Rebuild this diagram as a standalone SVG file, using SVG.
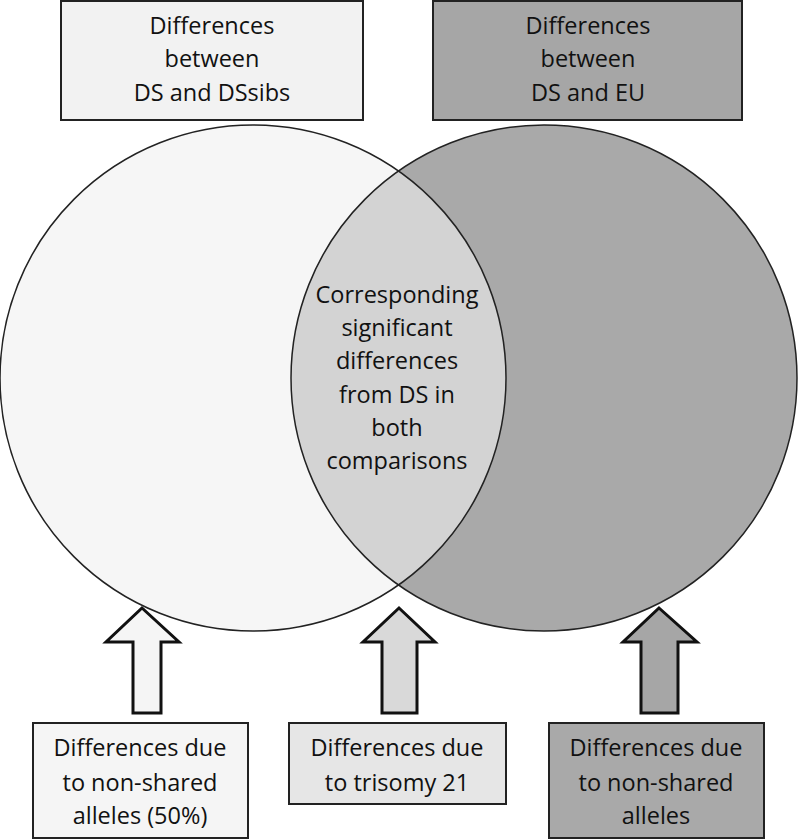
<svg xmlns="http://www.w3.org/2000/svg" width="800" height="840" viewBox="0 0 800 840">
<style>
.t{font-family:"Open Sans","Noto Sans",sans-serif;font-size:23.5px;fill:#111;text-anchor:middle}
.box{stroke:#222;stroke-width:2}
.ol{fill:none;stroke:#222;stroke-width:1.5}
.arr{stroke:#111;stroke-width:3;stroke-linejoin:miter}
</style>
<rect width="800" height="840" fill="#fff"/>
<g id="circles">
<circle id="circle-left" cx="253" cy="378" r="253" fill="#f6f6f6"/>
<circle id="circle-right" cx="544" cy="378" r="253" fill="#a9a9a9"/>
<path id="lens" d="M398.5,171 A253,253 0 0 1 398.5,585 A253,253 0 0 1 398.5,171 Z" fill="#d3d3d3"/>
<circle class="ol" cx="253" cy="378" r="253"/>
<circle class="ol" cx="544" cy="378" r="253"/>
</g>
<g id="box-top-left">
<rect class="box" x="61" y="1" width="302" height="119" fill="#f2f2f2"/>
<text class="t" x="212" y="34">Differences</text>
<text class="t" x="212" y="67">between</text>
<text class="t" x="212" y="101">DS and DSsibs</text>
</g>
<g id="box-top-right">
<rect class="box" x="433" y="1" width="309" height="119" fill="#a6a6a6"/>
<text class="t" x="588" y="34">Differences</text>
<text class="t" x="588" y="67">between</text>
<text class="t" x="588" y="101">DS and EU</text>
</g>
<g id="center-label">
<text class="t" x="397" y="303">Corresponding</text>
<text class="t" x="397" y="336">significant</text>
<text class="t" x="397" y="369">differences</text>
<text class="t" x="397" y="403">from DS in</text>
<text class="t" x="397" y="436">both</text>
<text class="t" x="397" y="469">comparisons</text>
</g>
<g id="connectors">
<path class="arr" fill="#f5f5f5" d="M142,608 L179,642 L161,642 L161,713 L133,713 L133,642 L106,642 Z"/>
<path class="arr" fill="#d9d9d9" d="M399,608 L435,642 L417,642 L417,713 L382,713 L382,642 L363,642 Z"/>
<path class="arr" fill="#a6a6a6" d="M659,608 L697,642 L678,642 L678,713 L641,713 L641,642 L623,642 Z"/>
</g>
<g id="box-bottom-left">
<rect class="box" x="33" y="723" width="215" height="115" fill="#f5f5f5"/>
<text class="t" x="140" y="756">Differences due</text>
<text class="t" x="140" y="791">to non-shared</text>
<text class="t" x="140" y="824">alleles (50%)</text>
</g>
<g id="box-bottom-middle">
<rect class="box" x="289" y="723" width="217" height="81" fill="#e6e6e6"/>
<text class="t" x="397" y="756">Differences due</text>
<text class="t" x="397" y="791">to trisomy 21</text>
</g>
<g id="box-bottom-right">
<rect class="box" x="549" y="723" width="215" height="115" fill="#a9a9a9"/>
<text class="t" x="656" y="756">Differences due</text>
<text class="t" x="656" y="791">to non-shared</text>
<text class="t" x="656" y="824">alleles</text>
</g>
</svg>
